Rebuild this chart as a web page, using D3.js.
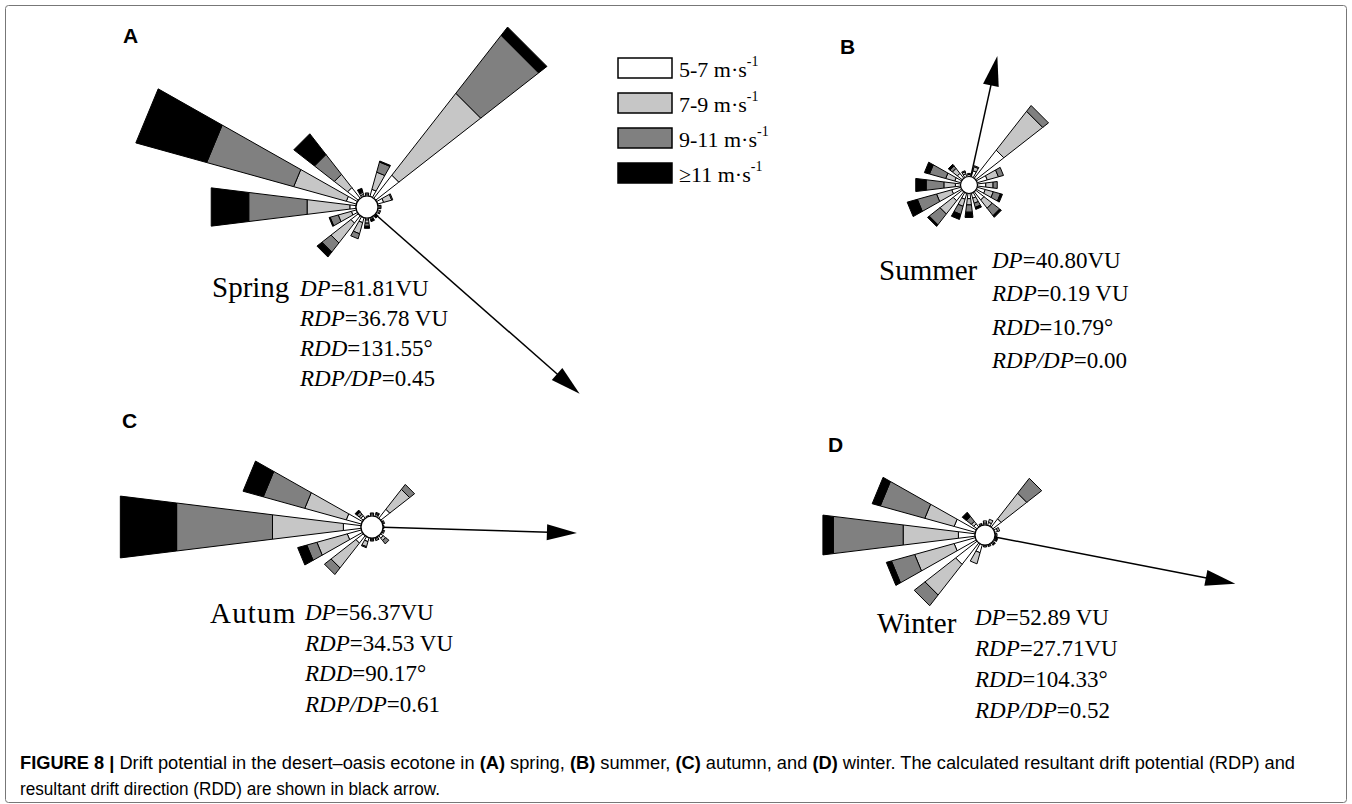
<!DOCTYPE html>
<html>
<head>
<meta charset="utf-8">
<script src="https://cdn.jsdelivr.net/npm/d3@7/dist/d3.min.js"></script>
<style>
  body { margin: 0; background: #fff; }
  svg { display: block; }
</style>
</head>
<body>
<svg id="chart" width="1352" height="804"></svg>
<script>
// 16 compass sectors, clockwise from north.
const directions = ["N", "NNE", "NE", "ENE", "E", "ESE", "SE", "SSE",
                    "S", "SSW", "SW", "WSW", "W", "WNW", "NW", "NNW"];
const speedClasses = ["5-7", "7-9", "9-11", "≥11"];
const classColors = ["#ffffff", "#c6c6c6", "#808080", "#000000"];

const panelLetters = ["A", "B", "C", "D"];
const seasonNames = ["Spring", "Summer", "Autum", "Winter"];

// Drift potential (VU) per sector for each speed class.
const spring57  = [0.2, 0.7, 2.8, 0.6, 0.2, 0.2, 0.0, 0.0, 0.2, 0.5, 0.9, 0.5, 0.6, 1.0, 1.3, 0.2];
const spring79  = [0.1, 1.7, 9.9, 0.8, 0.0, 0.1, 0.0, 0.0, 0.3, 1.1, 2.4, 1.3, 4.1, 5.2, 1.6, 0.2];
const spring911 = [0.0, 1.0, 7.0, 0.1, 0.1, 0.0, 0.1, 0.2, 0.3, 0.5, 1.1, 0.8, 5.6, 8.6, 2.4, 0.1];
const spring11  = [0.0, 0.1, 1.0, 0.0, 0.0, 0.0, 0.2, 0.2, 0.2, 0.0, 0.6, 0.1, 3.6, 7.0, 2.5, 0.3];

const summer57  = [0.2, 0.6, 3.4, 1.0, 0.8, 0.8, 1.0, 0.5, 0.5, 0.6, 1.1, 0.9, 0.5, 0.6, 0.6, 0.3];
const summer79  = [0.1, 0.4, 4.7, 1.1, 0.7, 0.8, 1.0, 0.5, 0.6, 0.7, 1.6, 1.5, 1.1, 0.9, 0.6, 0.2];
const summer911 = [0.0, 0.1, 0.7, 0.5, 0.4, 0.7, 0.9, 0.4, 0.7, 0.8, 1.3, 1.9, 1.7, 1.6, 0.3, 0.1];
const summer11  = [0.0, 0.0, 0.0, 0.0, 0.0, 0.2, 0.2, 0.2, 0.5, 0.5, 0.2, 1.0, 1.0, 0.5, 0.2, 0.0];

const autumn57  = [0.2, 0.2, 1.1, 0.1, 0.1, 0.1, 0.3, 0.1, 0.1, 0.4, 0.9, 1.4, 1.7, 1.5, 0.3, 0.1];
const autumn79  = [0.0, 0.1, 2.4, 0.1, 0.0, 0.1, 0.3, 0.0, 0.1, 0.5, 3.0, 3.0, 6.8, 4.1, 0.2, 0.0];
const autumn911 = [0.1, 0.1, 0.6, 0.0, 0.0, 0.0, 0.4, 0.2, 0.1, 0.1, 0.8, 1.0, 9.2, 4.1, 0.3, 0.0];
const autumn11  = [0.0, 0.0, 0.0, 0.0, 0.0, 0.0, 0.0, 0.0, 0.0, 0.0, 0.0, 0.9, 5.4, 2.0, 0.2, 0.0];

const winter57  = [0.2, 0.3, 1.0, 0.3, 0.1, 0.1, 0.1, 0.1, 0.1, 0.8, 2.6, 2.1, 1.6, 2.1, 0.4, 0.1];
const winter79  = [0.2, 0.3, 3.1, 0.2, 0.1, 0.0, 0.0, 0.1, 0.1, 1.1, 3.7, 3.9, 5.3, 2.9, 0.3, 0.1];
const winter911 = [0.0, 0.0, 1.8, 0.0, 0.0, 0.1, 0.1, 0.0, 0.0, 0.0, 1.3, 2.3, 6.7, 4.4, 0.6, 0.0];
const winter11  = [0.0, 0.0, 0.0, 0.0, 0.0, 0.1, 0.1, 0.0, 0.0, 0.0, 0.0, 0.5, 1.0, 0.8, 0.5, 0.0];

// Summary values printed beside each rose.
const dpValues  = [81.81, 40.80, 56.37, 52.89];
const rdpValues = [36.78, 0.19, 34.53, 27.71];
const rddValues = [131.55, 10.79, 90.17, 104.33];
const ratioValues = [0.45, 0.00, 0.61, 0.52];
const dpGap  = ["", "", "", " "];
const rdpGap = [" ", " ", " ", ""];

const seasonData = [
  [spring57, spring79, spring911, spring11],
  [summer57, summer79, summer911, summer11],
  [autumn57, autumn79, autumn911, autumn11],
  [winter57, winter79, winter911, winter11]
];

// Layout of each panel (pixels).
const panels = [
  {cx: 367, cy: 207, r0: 11,  letter: [123, 43],  name: [212, 297], stats: [300, 296], lineH: 30,   arrowLen: 283, arrowDir: 131.3, spacing: 0},
  {cx: 969, cy: 185, r0: 8.5, letter: [840, 54],  name: [879, 280], stats: [992, 268], lineH: 33.3, arrowLen: 132, arrowDir: 12.4,  spacing: 0},
  {cx: 372, cy: 527, r0: 11,  letter: [122, 428], name: [210, 623], stats: [305, 620], lineH: 30.7, arrowLen: 205, arrowDir: 91.7,  spacing: 1.2},
  {cx: 985, cy: 535, r0: 10,  letter: [828, 452], name: [877, 633], stats: [975, 625], lineH: 31,   arrowLen: 255, arrowDir: 101,   spacing: 0}
];

const pxPerVU = 10.5;
const halfWidth = 7; // half angular width of a sector bar, degrees
const serif = "'Liberation Serif', 'Times New Roman', serif";
const sans = "'Liberation Sans', Arial, sans-serif";

const svg = d3.select("#chart");

// Thin frame around the whole figure.
svg.append("rect")
  .attr("x", 5.5).attr("y", 5.5)
  .attr("width", 1341).attr("height", 797)
  .attr("rx", 3)
  .style("fill", "none")
  .style("stroke", "#777")
  .style("stroke-width", 1);

// Sector angle in degrees (clockwise from north) at the middle of each band.
const angle = d3.scaleBand().domain(directions).range([-11.25, 348.75]);
const midAngle = d => angle(d) + angle.bandwidth() / 2;

function polar(r, deg) {
  const a = deg * Math.PI / 180;
  return [r * Math.sin(a), -r * Math.cos(a)];
}

const polygon = d3.line().curve(d3.curveLinearClosed);
const stack = d3.stack().keys(speedClasses);

panels.forEach((p, i) => {
  const g = svg.append("g").attr("transform", "translate(" + p.cx + "," + p.cy + ")");

  const rows = directions.map((d, j) => {
    const row = {dir: d};
    speedClasses.forEach((k, c) => { row[k] = seasonData[i][c][j]; });
    return row;
  });
  const series = stack(rows);

  const radius = d3.scaleLinear().domain([0, 1]).range([p.r0, p.r0 + pxPerVU]);

  series.forEach((s, c) => {
    g.append("g").selectAll("path")
      .data(s.filter(v => v[1] - v[0] > 0))
      .join("path")
      .attr("d", v => {
        const a = midAngle(v.data.dir);
        const r1 = radius(v[0]), r2 = radius(v[1]);
        return polygon([polar(r1, a - halfWidth), polar(r2, a - halfWidth),
                        polar(r2, a + halfWidth), polar(r1, a + halfWidth)]);
      })
      .style("fill", classColors[c])
      .style("stroke", "#000")
      .style("stroke-width", 1)
      .style("stroke-linejoin", "round");
  });

  // Centre circle.
  g.append("circle").attr("r", p.r0)
    .style("fill", "#fff").style("stroke", "#000").style("stroke-width", 1.2);

  // Resultant drift arrow.
  const headLen = 30, headHalf = 8;
  const start = polar(p.r0, p.arrowDir);
  const neck = polar(p.arrowLen - headLen + 2, p.arrowDir);
  g.append("line")
    .attr("x1", start[0]).attr("y1", start[1])
    .attr("x2", neck[0]).attr("y2", neck[1])
    .style("stroke", "#000").style("stroke-width", 1.5);
  const tip = polar(p.arrowLen, p.arrowDir);
  const base = polar(p.arrowLen - headLen, p.arrowDir);
  const side = polar(headHalf, p.arrowDir + 90);
  g.append("path")
    .attr("d", polygon([tip, [base[0] + side[0], base[1] + side[1]], [base[0] - side[0], base[1] - side[1]]]))
    .style("fill", "#000");

  // Panel letter.
  svg.append("text")
    .attr("x", p.letter[0]).attr("y", p.letter[1])
    .style("font-family", sans).style("font-weight", "bold").style("font-size", "21px")
    .text(panelLetters[i]);

  // Season name.
  svg.append("text")
    .attr("x", p.name[0]).attr("y", p.name[1])
    .style("font-family", serif).style("font-size", "29px")
    .style("letter-spacing", p.spacing + "px")
    .text(seasonNames[i]);

  const lines = [
    ["DP", "=" + dpValues[i].toFixed(2) + dpGap[i] + "VU"],
    ["RDP", "=" + rdpValues[i].toFixed(2) + rdpGap[i] + "VU"],
    ["RDD", "=" + rddValues[i].toFixed(2) + "°"],
    ["RDP/DP", "=" + ratioValues[i].toFixed(2)]
  ];
  lines.forEach((l, k) => {
    const t = svg.append("text")
      .attr("x", p.stats[0]).attr("y", p.stats[1] + k * p.lineH)
      .style("font-family", serif).style("font-size", "23px");
    t.append("tspan").style("font-style", "italic").text(l[0]);
    t.append("tspan").text(l[1]);
  });
});

// Legend.
const legend = svg.append("g");
speedClasses.forEach((k, c) => {
  legend.append("rect")
    .attr("x", 618).attr("y", 58 + c * 35)
    .attr("width", 54).attr("height", 20)
    .style("fill", classColors[c]).style("stroke", "#000").style("stroke-width", 1.5);
  const t = legend.append("text")
    .attr("x", 679).attr("y", 77 + c * 35)
    .style("font-family", serif).style("font-size", "22px");
  t.append("tspan").text(k + " m·s");
  t.append("tspan").attr("dy", -11).style("font-size", "14px").text("-1");
});

// Caption.
const caption1 = [
  ["FIGURE 8 | ", true], ["Drift potential in the desert–oasis ecotone in ", false],
  ["(A)", true], [" spring, ", false], ["(B)", true], [" summer, ", false],
  ["(C)", true], [" autumn, and ", false], ["(D)", true],
  [" winter. The calculated resultant drift potential (RDP) and", false]
];
const cap = svg.append("text").attr("x", 20).attr("y", 769)
  .attr("textLength", 1275).attr("lengthAdjust", "spacingAndGlyphs")
  .style("font-family", sans).style("font-size", "17.5px");
caption1.forEach(c => {
  cap.append("tspan").style("font-weight", c[1] ? "bold" : "normal").text(c[0]);
});
svg.append("text").attr("x", 20).attr("y", 795)
  .attr("textLength", 420).attr("lengthAdjust", "spacingAndGlyphs")
  .style("font-family", sans).style("font-size", "17.5px")
  .text("resultant drift direction (RDD) are shown in black arrow.");
</script>
</body>
</html>
